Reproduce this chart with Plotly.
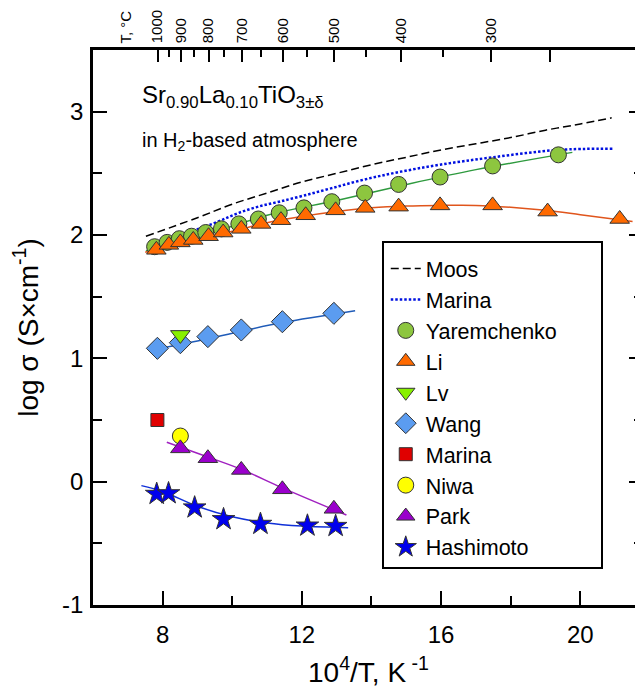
import plotly.graph_objects as go

# ---------------- data ----------------
yar_x = [7.77, 8.13, 8.48, 8.83, 9.24, 9.69, 10.19, 10.75, 11.35, 12.06, 12.86, 13.80, 14.78, 15.97, 17.48, 19.37]
yar_y = [1.905, 1.94, 1.97, 1.99, 2.02, 2.05, 2.09, 2.13, 2.18, 2.22, 2.27, 2.34, 2.41, 2.47, 2.56, 2.65]
yar_fit_x = [7.52, 9.0, 11.0, 13.0, 15.0, 17.0, 19.77]
yar_fit_y = [1.87, 1.98, 2.16, 2.28, 2.41, 2.53, 2.67]

li_x = [7.82, 8.18, 8.51, 8.88, 9.32, 9.74, 10.26, 10.83, 11.40, 12.11, 12.97, 13.82, 14.78, 15.97, 17.48, 19.06, 21.13]
li_y = [1.88, 1.92, 1.94, 1.96, 1.99, 2.02, 2.05, 2.09, 2.12, 2.16, 2.20, 2.22, 2.23, 2.24, 2.24, 2.19, 2.13]
li_fit_x = [7.5, 9.0, 10.0, 11.0, 12.0, 13.0, 14.0, 15.0, 16.0, 17.0, 18.0, 19.0, 20.0, 21.5]
li_fit_y = [1.86, 1.97, 2.03, 2.10, 2.15, 2.19, 2.22, 2.235, 2.24, 2.24, 2.225, 2.20, 2.165, 2.11]

lv_x = [8.51]
lv_y = [1.19]

wang_x = [7.85, 8.51, 9.30, 10.26, 11.44, 12.92]
wang_y = [1.081, 1.127, 1.176, 1.23, 1.297, 1.365]
wang_fit_x = [7.68, 9.0, 10.26, 11.44, 13.53]
wang_fit_y = [1.068, 1.14, 1.22, 1.29, 1.386]

marina_sq_x = [7.85]
marina_sq_y = [0.50]

niwa_x = [8.51]
niwa_y = [0.37]

park_x = [8.51, 9.30, 10.26, 11.44, 12.92]
park_y = [0.27, 0.19, 0.095, -0.062, -0.22]
park_fit_x = [8.12, 9.3, 10.26, 11.44, 13.28]
park_fit_y = [0.32, 0.20, 0.10, -0.05, -0.27]

hash_x = [7.83, 8.17, 8.92, 9.75, 10.81, 12.16, 12.97]
hash_y = [-0.10, -0.095, -0.21, -0.305, -0.343, -0.357, -0.36]
hash_fit_x = [7.39, 8.0, 9.0, 10.0, 11.0, 12.0, 13.33]
hash_fit_y = [-0.032, -0.08, -0.20, -0.285, -0.335, -0.36, -0.373]

moos_x = [7.52, 9.0, 10.0, 11.0, 12.0, 13.0, 14.0, 15.0, 16.0, 17.0, 18.0, 19.0, 20.0, 20.9]
moos_y = [1.99, 2.14, 2.25, 2.34, 2.43, 2.50, 2.57, 2.63, 2.69, 2.74, 2.79, 2.85, 2.90, 2.95]

marina_x = [7.62, 8.13, 8.48, 8.83, 9.24, 9.69, 10.19, 10.75, 11.35, 12.06, 12.86, 13.80, 14.78, 15.97, 17.48, 19.37, 20.93]
marina_y = [1.94, 1.96, 1.99, 2.03, 2.07, 2.12, 2.18, 2.23, 2.27, 2.32, 2.38, 2.45, 2.51, 2.57, 2.63, 2.69, 2.70]

top_major_T = [1000, 900, 800, 700, 600, 500, 400, 300, 250]
top_major_lbl = ["1000", "900", "800", "700", "600", "500", "400", "300", ""]
top_minor_T = [950, 850, 750, 650, 550, 450, 350]

# ---------------- figure ----------------
FONT = "Liberation Sans, Arial, sans-serif"
OFF = 8                      # default body margin of the html page
W, H = 643 - OFF, 689 - OFF  # figure size so that it ends at the window edge
# plot area in window pixels: x 93..643, y 50..605
L, T = 93 - OFF, 50 - OFF
R = 0
B = H - (605 - OFF)
PW, PH = W - L - R, H - T - B
XR = [6, 21.8]
YR = [-1, 3.5]


def px_x(p):   # window pixel -> paper x
    return (p - 93) / PW


def px_y(p):   # window pixel -> paper y
    return (605 - p) / PH


fig = go.Figure()


def fit(x, y, color):
    fig.add_trace(go.Scatter(x=x, y=y, mode="lines", line=dict(color=color, width=1.5, shape="spline"),
                             showlegend=False, hoverinfo="skip"))


fit(yar_fit_x, yar_fit_y, "#2e9a3e")
fit(li_fit_x, li_fit_y, "#e0551c")
fit(wang_fit_x, wang_fit_y, "#1f5bb8")
fit(park_fit_x, park_fit_y, "#a020c0")
fit(hash_fit_x, hash_fit_y, "#1030d8")

fig.add_trace(go.Scatter(x=moos_x, y=moos_y, mode="lines", name="Moos", legendrank=1,
                         line=dict(color="black", width=1.5, dash="8px,4px", shape="spline")))
fig.add_trace(go.Scatter(x=marina_x, y=marina_y, mode="lines", name="Marina", legendrank=2,
                         line=dict(color="#0010e0", width=2.5, dash="2.5px,2px", shape="spline")))

edge = dict(color="#333333", width=1)


def pts(x, y, name, rank, symbol, color, size):
    fig.add_trace(go.Scatter(x=x, y=y, mode="markers", name=name, legendrank=rank,
                             marker=dict(symbol=symbol, color=color, size=size, line=edge)))


pts(yar_x, yar_y, "Yaremchenko", 3, "circle", "#8dc63f", 16)
pts(li_x, li_y, "Li", 4, "triangle-up", "#ff6a00", 17)
pts(wang_x, wang_y, "Wang", 6, "diamond", "#5b9cf0", 17)
pts(lv_x, lv_y, "Lv", 5, "triangle-down", "#88f000", 17)
pts(marina_sq_x, marina_sq_y, "Marina", 7, "square", "#e00000", 13)
pts(niwa_x, niwa_y, "Niwa", 8, "circle", "#ffff00", 16)
pts(park_x, park_y, "Park", 9, "triangle-up", "#9a00cc", 17)
pts(hash_x, hash_y, "Hashimoto", 10, "star", "#0000ee", 17)

# empty traces so the top / right axes render
fig.add_trace(go.Scatter(x=[], y=[], xaxis="x2", showlegend=False))
fig.add_trace(go.Scatter(x=[], y=[], yaxis="y2", showlegend=False))

top_major = [1e4 / (t + 273.15) for t in top_major_T]
top_minor = [1e4 / (t + 273.15) for t in top_minor_T]

axis_common = dict(showgrid=False, zeroline=False, linecolor="black", linewidth=2.5,
                   tickcolor="black", tickwidth=2, ticks="inside", automargin=False,
                   tickfont=dict(family=FONT, size=24, color="black"))
minor_common = dict(ticks="inside", tickcolor="black", tickwidth=2)

fig.update_layout(
    width=W, height=H, margin=dict(l=L, r=R, t=T, b=B, autoexpand=False),
    paper_bgcolor="white", plot_bgcolor="white",
    font=dict(family=FONT, color="black"),
    xaxis=dict(range=XR, tickmode="array", tickvals=[8, 12, 16, 20], ticklen=14, showline=True,
               ticklabelstandoff=6,
               minor=dict(tickvals=[10, 14, 18], ticklen=9, **minor_common),
               **axis_common),
    xaxis2=dict(range=XR, overlaying="x", side="top", anchor="y", tickmode="array",
                tickvals=top_major, ticktext=top_major_lbl, tickangle=-90, ticklen=12, showline=True,
                ticklabelstandoff=1,
                minor=dict(tickvals=top_minor, ticklen=7, **minor_common),
                **{**axis_common, "tickfont": dict(family=FONT, size=15, color="black")}),
    yaxis=dict(range=YR, tickmode="array", tickvals=[-1, 0, 1, 2, 3], ticktext=["-1", "0", "1", "2", "3"],
               ticklen=14, showline=True, ticklabelstandoff=2,
               minor=dict(tickvals=[-0.5, 0.5, 1.5, 2.5], ticklen=9, **minor_common),
               title=dict(text="log σ (S×cm<sup>-1</sup>)", font=dict(family=FONT, size=28), standoff=20),
               **axis_common),
    yaxis2=dict(range=YR, overlaying="y", side="right", anchor="x", tickmode="array",
                tickvals=[-1, 0, 1, 2, 3], showticklabels=False, ticklen=14, showline=False,
                minor=dict(tickvals=[-0.5, 0.5, 1.5, 2.5], ticklen=9, **minor_common),
                **axis_common),
    legend=dict(x=px_x(383) + 0.005, y=px_y(248), xanchor="left", yanchor="top",
                bgcolor="rgba(0,0,0,0)", borderwidth=0, tracegroupgap=0,
                font=dict(family=FONT, size=21.5, color="black")),
    showlegend=True,
)

# legend frame
fig.add_shape(type="rect", xref="paper", yref="paper",
              x0=px_x(383), x1=px_x(602), y0=px_y(568), y1=px_y(242),
              line=dict(color="black", width=2), fillcolor="white", layer="below")

# x-axis title (placed as annotation so it can sit near the bottom edge like the reference)
fig.add_annotation(xref="paper", yref="paper", x=0.5, y=px_y(670),
                   xanchor="center", yanchor="middle", showarrow=False,
                   text="10<sup>4</sup>/T, K<sup> -1</sup>",
                   font=dict(family=FONT, size=28, color="black"))

fig.add_annotation(xref="paper", yref="paper", x=px_x(140), y=px_y(114),
                   xanchor="left", yanchor="bottom", showarrow=False,
                   text="Sr<sub>0.90</sub>La<sub>0.10</sub>TiO<sub>3±δ</sub>",
                   font=dict(family=FONT, size=24, color="black"))
fig.add_annotation(xref="paper", yref="paper", x=px_x(140), y=px_y(141),
                   xanchor="left", yanchor="middle", showarrow=False,
                   text="in H<sub>2</sub>-based atmosphere",
                   font=dict(family=FONT, size=20, color="black"))
fig.add_annotation(xref="paper", yref="paper", x=px_x(125), y=px_y(46),
                   xanchor="center", yanchor="bottom", showarrow=False, textangle=-90,
                   text="T, °C", font=dict(family=FONT, size=15, color="black"))

fig.write_html("out.html")
